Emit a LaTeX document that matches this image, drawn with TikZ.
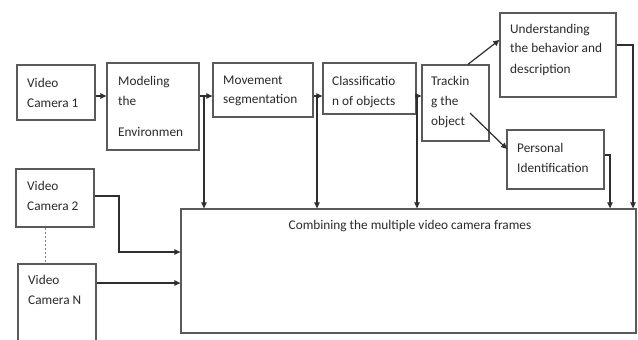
\documentclass[tikz,border=0pt]{standalone}
\usepackage{fontspec}
\setmainfont{Carlito}
\usetikzlibrary{arrows.meta,fit,calc}
\definecolor{boxc}{HTML}{5A5A5A}
\definecolor{linec}{HTML}{2E2E2E}
\definecolor{txtc}{HTML}{2A2A2A}
\tikzset{
  box/.style={draw=boxc, line width=1.3pt, inner sep=0pt, fill=white},
  lbl/.style={anchor=base west, inner sep=0pt, text=txtc, font=\fontsize{13.3}{20}\selectfont},
  conn/.style={draw=linec, line width=1.2pt},
  arr/.style={conn, -{Triangle[length=6pt,width=5.5pt]}},
  dotl/.style={draw=gray, line width=1pt, dash pattern=on 2pt off 2pt}
}
\newcommand\ml[1]{\begin{tabular}[t]{@{}l@{}}#1\end{tabular}}
\begin{document}
\begin{tikzpicture}[x=1pt,y=-1pt]
\useasboundingbox (0,0) rectangle (638,340);
\clip (0,0) rectangle (638,340);
\fill[white] (0,0) rectangle (638,340);
% boxes
\node[box, fit={(17,65)(95,120)}] (vc1) {};
\node[box, fit={(107,63)(199,150)}] (model) {};
\node[box, fit={(213,63)(313,117)}] (move) {};
\node[box, fit={(323,63)(416,114)}] (class) {};
\node[box, fit={(422,65)(489,141)}] (track) {};
\node[box, fit={(500,13)(616,97)}] (under) {};
\node[box, fit={(507,130)(604,189)}] (pers) {};
\node[box, fit={(181,209)(636,333)}] (comb) {};
\node[box, fit={(16,169)(94,227)}] (vc2) {};
\node[box, fit={(18,264)(96,360)}] (vcn) {};
% texts
\node[lbl] (t1) at (27,87) {\ml{Video\\Camera 1}};
\node[lbl] (t2) at (118,85) {\ml{Modeling\\the\\[11pt]Environmen}};
\node[lbl] (t3) at (223,84) {\ml{Movement\\segmentation}};
\node[lbl] (t4) at (332,85) {\ml{Classificatio\\n of objects}};
\node[lbl] (t5) at (431,85) {\ml{Trackin\\g the\\object}};
\node[lbl] (t6) at (510,33) {\ml{Understanding\\the behavior and\\description}};
\node[lbl] (t7) at (517,152) {\ml{Personal\\Identification}};
\node[lbl] (t8) at (27,190) {\ml{Video\\Camera 2}};
\node[lbl] (t9) at (28,284) {\ml{Video\\Camera N}};
\node[lbl, anchor=base] (t10) at (410,229) {Combining the multiple video camera frames};
% helper coordinates
\coordinate (ya) at (0,96);
\coordinate (b1) at (204,96);
\coordinate (b2) at (317,96);
\coordinate (b3) at (417,96);
\coordinate (ts) at (468,0);
\coordinate (ue) at (0,40);
\coordinate (ps) at (470,113);
\coordinate (pe) at (507,149);
\coordinate (ur) at (633,45);
\coordinate (pr) at (610,155);
\coordinate (c2) at (119,196);
\coordinate (c2b) at (0,252);
\coordinate (cn) at (0,283);
\coordinate (dx) at (45,0);
% connectors
\draw[arr] (vc1.east |- ya) -- (model.west |- ya);
\draw[arr] (model.east |- ya) -- (move.west |- ya);
\draw[arr] (move.east |- ya) -- (class.west |- ya);
\draw[arr] (class.east |- ya) -- (track.west |- ya);
\draw[arr] (b1) -- (b1 |- comb.north);
\draw[arr] (b2) -- (b2 |- comb.north);
\draw[arr] (b3) -- (b3 |- comb.north);
\draw[arr] (track.north -| ts) -- (under.west |- ue);
\draw[arr] (ps) -- (pe);
\draw[arr] (under.east |- ur) -- (ur) -- (ur |- comb.north);
\draw[arr] (pers.east |- pr) -- (pr) -- (pr |- comb.north);
\draw[arr] (vc2.east |- c2) -- (c2) -- (c2 |- c2b) -- (comb.west |- c2b);
\draw[arr] (vcn.east |- cn) -- (comb.west |- cn);
\draw[dotl] (vc2.south -| dx) -- (vcn.north -| dx);
\end{tikzpicture}
\end{document}
